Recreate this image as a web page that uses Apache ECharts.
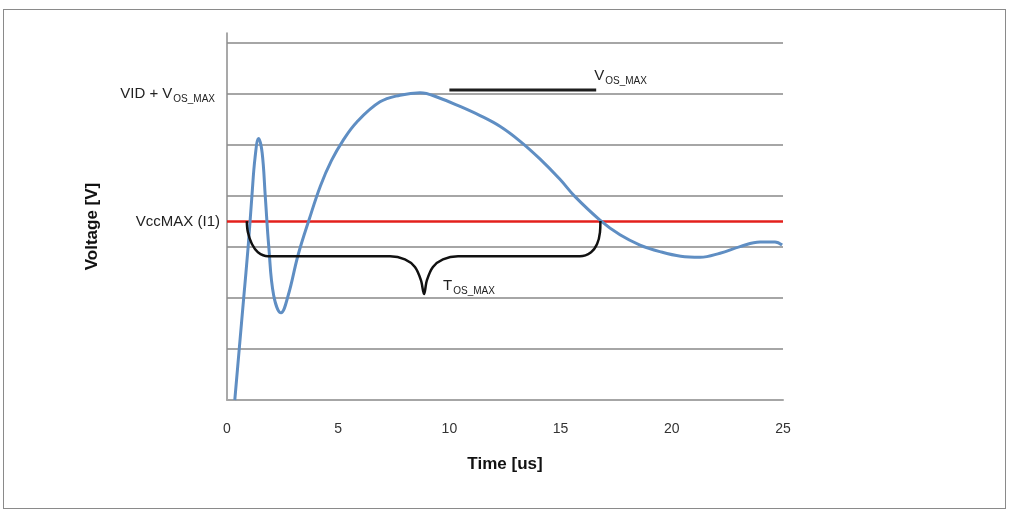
<!DOCTYPE html>
<html>
<head>
<meta charset="utf-8">
<script src="https://cdn.jsdelivr.net/npm/echarts@6/dist/echarts.min.js"></script>
<style>
  html, body { margin: 0; padding: 0; background: #fff; }
  #frame { position: absolute; left: 3px; top: 9px; width: 1001px; height: 498px; border: 1.5px solid #8a8a8a; }
  #overshoot { position: absolute; left: 0; top: 0; width: 1010px; height: 512px; }
</style>
</head>
<body>
<div id="frame"></div>
<div id="overshoot"></div>
<script>
// time axis [us] and voltage levels (grid units)
var timeTicks = [0, 5, 10, 15, 20, 25]
var vidLevel = 6          // VID + V_OS_MAX
var vccMaxLevel = 3.5     // VccMAX (I1)

// measured waveform: [time, level]
var waveT = [0.35, 0.55, 0.75, 0.95, 1.12, 1.26, 1.42, 1.58, 1.72, 1.88, 2.1, 2.43, 2.75, 3.2, 3.7, 4.2, 4.7, 5.2, 5.83, 6.88, 7.78, 8.68, 9.58, 10.48, 11.38, 12.27, 13.17, 14.07, 14.97, 15.65, 16.77, 17.67, 18.57, 19.47, 20.4, 21.27, 22.17, 23.07, 23.97, 24.64, 24.96]
var waveV = [0, 1.0, 2.0, 3.0, 4.0, 4.75, 5.13, 4.85, 4.0, 3.0, 2.05, 1.71, 2.05, 2.85, 3.55, 4.2, 4.7, 5.08, 5.45, 5.85, 5.98, 6.03, 5.92, 5.76, 5.58, 5.37, 5.08, 4.73, 4.33, 3.99, 3.53, 3.24, 3.04, 2.91, 2.82, 2.80, 2.88, 3.01, 3.10, 3.10, 3.04]

// V_OS_MAX marker bar
var vosT = [10, 16.6]
var vosV = [6.08, 6.08]

// T_OS_MAX brace
var braceT = [0.89, 0.94, 1.12, 1.39, 1.84, 7.33, 8.0, 8.45, 8.72, 8.86, 8.99, 9.26, 9.71, 10.39, 15.87, 16.37, 16.64, 16.77, 16.79]
var braceV = [3.51, 3.29, 3.06, 2.90, 2.82, 2.82, 2.76, 2.61, 2.35, 2.08, 2.35, 2.61, 2.76, 2.82, 2.82, 2.90, 3.06, 3.29, 3.51]
var braceTip = 9

var myChart = echarts.init(document.getElementById('overshoot'))
var fontName = 'Liberation Sans'
var subRich = {
    a: { fontSize: 15, color: '#222', fontFamily: fontName },
    s: { fontSize: 10, color: '#222', fontFamily: fontName, padding: [10, 0, 0, 1] }
}

var waveData = waveT.map(function (t, i) { return [t, waveV[i]] })
var vosData = vosT.map(function (t, i) {
    var item = { value: [t, vosV[i]] }
    if (i === vosT.length - 1) {
        item.label = {
            show: true,
            position: [-2, -24],
            formatter: '{a|V}{s|OS_MAX}',
            rich: subRich
        }
    }
    return item
})
var braceData = braceT.map(function (t, i) {
    var item = { value: [t, braceV[i]] }
    if (i === braceTip) {
        item.label = {
            show: true,
            position: [19, -18],
            formatter: '{a|T}{s|OS_MAX}',
            rich: subRich
        }
    }
    return item
})
var vccData = [timeTicks[0], timeTicks[timeTicks.length - 1]].map(function (t, i) {
    var item = { value: [t, vccMaxLevel] }
    if (i === 0) {
        item.label = {
            show: true,
            position: 'left',
            distance: 7,
            formatter: 'VccMAX (I1)',
            fontSize: 15,
            color: '#222',
            fontFamily: fontName
        }
    }
    return item
})

var option = {
    animation: false,
    backgroundColor: 'transparent',
    grid: { left: 227, right: 227, top: 33, bottom: 112 },
    xAxis: {
        type: 'value',
        min: 0,
        max: 25,
        interval: 5,
        name: 'Time [us]',
        nameLocation: 'middle',
        nameGap: 56,
        nameTextStyle: { fontSize: 17, fontWeight: 'bold', color: '#111', fontFamily: fontName },
        axisLine: { show: true, lineStyle: { color: '#a6a6a6', width: 2 } },
        axisTick: { show: false },
        axisLabel: { fontSize: 14, color: '#333', margin: 22, fontFamily: fontName },
        splitLine: { show: false }
    },
    yAxis: {
        type: 'value',
        min: 0,
        max: 7.2,
        interval: 1,
        name: 'Voltage [V]',
        nameLocation: 'middle',
        nameGap: 126,
        nameRotate: 90,
        nameTextStyle: { fontSize: 17, fontWeight: 'bold', color: '#111', fontFamily: fontName, padding: [0, 20, 0, 0] },
        axisLine: { show: true, lineStyle: { color: '#8c8c8c', width: 1.5 } },
        axisTick: { show: false },
        axisLabel: {
            margin: 12,
            formatter: function (v) {
                return v === vidLevel ? '{a|VID + V}{s|OS_MAX}' : ''
            },
            rich: subRich
        },
        splitLine: {
            show: true,
            showMinLine: false,
            showMaxLine: false,
            lineStyle: { color: '#a6a6a6', width: 2 }
        }
    },
    series: [{
        name: 'VccMAX',
        type: 'line',
        z: 2,
        symbol: 'circle',
        symbolSize: 0,
        showSymbol: true,
        lineStyle: { color: '#e3201c', width: 2.5 },
        itemStyle: { color: '#e3201c' },
        data: vccData
    }, {
        name: 'Voltage',
        type: 'line',
        z: 3,
        smooth: 0.4,
        showSymbol: false,
        lineStyle: { color: '#5f8ec3', width: 3 },
        data: waveData
    }, {
        name: 'VOS',
        type: 'line',
        z: 4,
        symbol: 'circle',
        symbolSize: 0,
        showSymbol: true,
        lineStyle: { color: '#1e1e1e', width: 3 },
        itemStyle: { color: '#1e1e1e' },
        data: vosData
    }, {
        name: 'TOS',
        type: 'line',
        z: 4,
        smooth: 0.35,
        symbol: 'circle',
        symbolSize: 0,
        showSymbol: true,
        lineStyle: { color: '#111', width: 2.5 },
        itemStyle: { color: '#111' },
        data: braceData
    }]
}

myChart.setOption(option)

window.addEventListener('resize', function () {
    myChart.resize()
})
</script>
</body>
</html>
